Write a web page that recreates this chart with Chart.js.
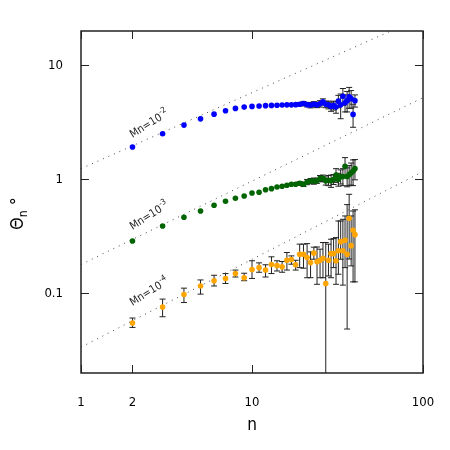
<!DOCTYPE html>
<html>
<head>
<meta charset="utf-8">
<script src="https://cdn.jsdelivr.net/npm/chart.js@4"></script>
<style>
  html, body { margin: 0; padding: 0; background: #fff; }
  #wrap { width: 450px; height: 450px; }
</style>
</head>
<body>
<div id="wrap"><canvas id="chart" width="450" height="450"></canvas></div>
<script>
// Data
const nValues = [2,3,4,5,6,7,8,9,10,11,12,13,14,15,16,17,18,19,20,21,22,23,24,25,26,27,28,29,30,31,32,33,34,35,36,37,38,39,40];

const blueVals = [1.92,2.51,2.99,3.39,3.73,3.99,4.19,4.30,4.36,4.40,4.43,4.45,4.47,4.49,4.50,4.50,4.52,4.55,4.62,4.52,4.48,4.55,4.50,4.60,4.78,4.55,4.50,4.35,4.45,4.30,4.85,4.50,5.36,4.70,4.90,5.30,5.10,3.71,4.90];
const blueErr = [0,0,0,0,0,0,0,0,0,0,0,0,0,0,0,0,0,0.15,0.2,0.2,0.25,0.25,0.25,0.3,0.3,0.3,0.35,0.4,0.4,0.5,0.6,1.1,0.9,0.8,1.0,1.1,0.9,0.85,0.6];

const greenVals = [0.288,0.390,0.465,0.528,0.592,0.642,0.682,0.714,0.759,0.769,0.811,0.828,0.857,0.869,0.886,0.904,0.904,0.923,0.904,0.947,0.966,0.966,0.972,1.02,1.02,0.97,0.98,0.97,1.0,1.09,1.0,1.06,1.06,1.30,1.06,1.10,1.14,1.18,1.24];
const greenErr = [0,0,0,0,0,0,0,0,0,0,0,0,0,0,0,0,0,0.03,0.04,0.05,0.05,0.06,0.05,0.06,0.07,0.08,0.1,0.12,0.1,0.15,0.13,0.15,0.18,0.25,0.2,0.22,0.25,0.3,0.25];

const orangeVals = [0.0548,0.0757,0.0976,0.116,0.129,0.135,0.149,0.137,0.162,0.168,0.160,0.179,0.175,0.171,0.195,0.198,0.178,0.220,0.220,0.206,0.186,0.225,0.189,0.195,0.203,0.122,0.195,0.223,0.223,0.193,0.236,0.284,0.236,0.292,0.220,0.455,0.262,0.357,0.327];
const orangeLo = [0.0502,0.0623,0.083,0.0984,0.116,0.122,0.139,0.129,0.135,0.153,0.139,0.149,0.157,0.153,0.160,0.180,0.160,0.168,0.166,0.137,0.137,0.199,0.120,0.137,0.137,0,0.142,0.137,0.168,0.120,0.147,0.199,0.118,0.168,0.0486,0.2,0.174,0.126,0.126];
const orangeHi = [0.0607,0.089,0.111,0.131,0.144,0.149,0.160,0.150,0.193,0.185,0.178,0.209,0.193,0.190,0.228,0.213,0.195,0.270,0.270,0.273,0.231,0.254,0.255,0.244,0.279,0.279,0.270,0.298,0.302,0.308,0.431,0.431,0.446,0.477,0.6,0.739,0.477,0.527,0.54];

// dotted guide lines: value at n=1 and at n=100
const guideAtStart = [1.24, 0.179, 0.0337];
const guideAtEnd = [26.7, 5.2, 1.17];
const guideN = [1, 100];

const labelExps = ['-2', '-3', '-4'];
const xTicks = [1, 2, 10, 100];
const yTicks = [0.1, 1, 10];

const FONT = '"DejaVu Sans Condensed", "DejaVu Sans", sans-serif';

function points(vals) {
  return nValues.map((n, i) => ({ x: n, y: vals[i] }));
}

const series = [
  { vals: blueVals, color: '#0000ff', lo: blueVals.map((v, i) => v - blueErr[i]), hi: blueVals.map((v, i) => v + blueErr[i]) },
  { vals: greenVals, color: '#006400', lo: greenVals.map((v, i) => v - greenErr[i]), hi: greenVals.map((v, i) => v + greenErr[i]) },
  { vals: orangeVals, color: '#ffa500', lo: orangeLo, hi: orangeHi }
];

// error bars, drawn under the markers
const errorBars = {
  id: 'errorBars',
  beforeDatasetsDraw(chart) {
    const { ctx, chartArea, scales: { x, y } } = chart;
    ctx.save();
    ctx.beginPath();
    ctx.rect(chartArea.left, chartArea.top, chartArea.right - chartArea.left, chartArea.bottom - chartArea.top);
    ctx.clip();
    ctx.strokeStyle = '#222';
    ctx.lineWidth = 1;
    series.forEach(s => {
      nValues.forEach((n, i) => {
        if (s.hi[i] - s.lo[i] <= 0) return;
        const px = x.getPixelForValue(n);
        const pLo = s.lo[i] > 0 ? y.getPixelForValue(s.lo[i]) : chartArea.bottom;
        const pHi = y.getPixelForValue(s.hi[i]);
        ctx.beginPath();
        ctx.moveTo(px, pLo);
        ctx.lineTo(px, pHi);
        ctx.moveTo(px - 3, pHi);
        ctx.lineTo(px + 3, pHi);
        if (s.lo[i] > 0) {
          ctx.moveTo(px - 3, pLo);
          ctx.lineTo(px + 3, pLo);
        }
        ctx.stroke();
      });
    });
    ctx.restore();
  }
};

// frame, inward ticks, titles and Mn labels
const decorations = {
  id: 'decorations',
  afterDraw(chart) {
    const { ctx, chartArea: a, scales: { x, y } } = chart;
    ctx.save();
    ctx.strokeStyle = '#222';
    ctx.lineWidth = 1.5;
    ctx.strokeRect(a.left, a.top, a.right - a.left, a.bottom - a.top);
    ctx.lineWidth = 1;
    ctx.beginPath();
    xTicks.forEach(v => {
      const px = Math.round(x.getPixelForValue(v)) + 0.5;
      ctx.moveTo(px, a.bottom); ctx.lineTo(px, a.bottom - 8);
      ctx.moveTo(px, a.top); ctx.lineTo(px, a.top + 8);
    });
    yTicks.forEach(v => {
      const py = Math.round(y.getPixelForValue(v)) + 0.5;
      ctx.moveTo(a.left, py); ctx.lineTo(a.left + 8, py);
      ctx.moveTo(a.right, py); ctx.lineTo(a.right - 8, py);
    });
    ctx.stroke();

    ctx.fillStyle = '#000';
    // x title
    ctx.font = '17px ' + FONT;
    ctx.textAlign = 'center';
    ctx.textBaseline = 'middle';
    ctx.fillText('n', (a.left + a.right) / 2, 426);

    // y title: Θn °
    ctx.save();
    ctx.translate(23, 230);
    ctx.rotate(-Math.PI / 2);
    ctx.textAlign = 'left';
    ctx.textBaseline = 'alphabetic';
    ctx.font = '18px ' + FONT;
    ctx.fillText('Θ', 0, 0);
    let w = ctx.measureText('Θ').width;
    ctx.font = '12px ' + FONT;
    ctx.fillText('n', w, 4);
    w += ctx.measureText('n').width;
    ctx.font = '18px ' + FONT;
    ctx.fillText(' °', w, 0);
    ctx.restore();

    // Mn labels, rotated along the guide lines
    const lift = [9, 11, 17];
    series.forEach((s, i) => {
      const px = x.getPixelForValue(nValues[0]);
      const py = y.getPixelForValue(s.vals[0]) - lift[i];
      ctx.save();
      ctx.translate(px, py);
      ctx.rotate(-32 * Math.PI / 180);
      ctx.textAlign = 'left';
      ctx.textBaseline = 'alphabetic';
      ctx.fillStyle = '#222';
      ctx.font = '11px ' + FONT;
      ctx.fillText('Mn=10', 0, 0);
      const tw = ctx.measureText('Mn=10').width;
      ctx.font = '8px ' + FONT;
      ctx.fillText(labelExps[i], tw + 0.5, -5);
      ctx.restore();
    });
    ctx.restore();
  }
};

const datasets = series.map(s => ({
  type: 'scatter',
  data: points(s.vals),
  backgroundColor: s.color,
  borderColor: s.color,
  pointRadius: 2.8,
  pointBorderWidth: 0
}));

guideAtStart.forEach((v, i) => {
  datasets.push({
    type: 'line',
    data: [{ x: guideN[0], y: v }, { x: guideN[1], y: guideAtEnd[i] }],
    borderColor: '#444',
    borderWidth: 1,
    borderDash: [1, 5],
    pointRadius: 0,
    fill: false
  });
});

new Chart(document.getElementById('chart'), {
  data: { datasets },
  options: {
    responsive: false,
    animation: false,
    events: [],
    layout: { padding: { top: 31, right: 27, left: 0, bottom: 0 } },
    plugins: { legend: { display: false }, tooltip: { enabled: false } },
    scales: {
      x: {
        type: 'logarithmic',
        min: 1,
        max: 100,
        grid: { display: false },
        border: { display: false },
        afterBuildTicks: s => { s.ticks = xTicks.map(v => ({ value: v })); },
        afterFit: s => { s.height = 77; },
        ticks: {
          color: '#000',
          font: { size: 13, family: FONT },
          padding: 14,
          maxRotation: 0,
          autoSkip: false,
          callback: v => String(v)
        }
      },
      y: {
        type: 'logarithmic',
        min: 0.02,
        max: 20,
        grid: { display: false },
        border: { display: false },
        afterBuildTicks: s => { s.ticks = yTicks.map(v => ({ value: v })); },
        afterFit: s => { s.width = 81; },
        ticks: {
          color: '#000',
          font: { size: 13, family: FONT },
          padding: 10,
          autoSkip: false,
          callback: v => String(v)
        }
      }
    }
  },
  plugins: [errorBars, decorations]
});
</script>
</body>
</html>
